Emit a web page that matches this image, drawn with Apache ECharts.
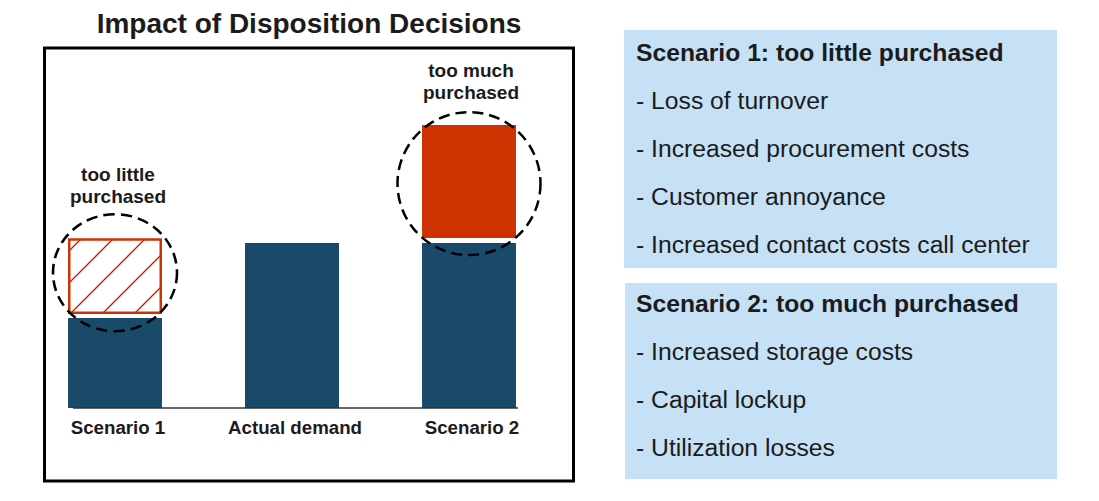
<!DOCTYPE html>
<html><head><meta charset="utf-8">
<script src="https://cdn.jsdelivr.net/npm/echarts@6/dist/echarts.min.js"></script>
<style>html,body{margin:0;padding:0;background:#fff}#c{width:1099px;height:501px}</style>
</head><body><div id="c"></div>
<script>
// ---- data ----
const categories = ['Scenario 1', 'Actual demand', 'Scenario 2'];
const purchased = [54.5, 100, 100];
const spacer = [2.4, null, 3];
const shortfall = [46, null, null];
const excess = [null, null, 68.5];
const highlightCenters = [[0, 82], [2, 136]];
const highlightLabels = ['too little\npurchased', 'too much\npurchased'];
const chartTitle = 'Impact of Disposition Decisions';
const panel1Title = 'Scenario 1: too little purchased';
const panel1Items = ['- Loss of turnover', '- Increased procurement costs', '- Customer annoyance', '- Increased contact costs call center'];
const panel2Title = 'Scenario 2: too much purchased';
const panel2Items = ['- Increased storage costs', '- Capital lockup', '- Utilization losses'];

// ---- styles ----
const FONT = '"Liberation Sans", Arial, sans-serif';
const BLUE = '#1A4A69';
const RED = '#CC3300';
const TEXT = '#1b1b1b';
const PANEL = '#C6E0F5';

const T = 32;
const pc = document.createElement('canvas');
pc.width = T; pc.height = T;
const g = pc.getContext('2d');
g.fillStyle = '#ffffff'; g.fillRect(0, 0, T, T);
g.strokeStyle = '#CC1100'; g.lineWidth = 1.3;
g.beginPath();
g.moveTo(-2, T + 2); g.lineTo(T + 2, -2);
g.moveTo(-2, 2); g.lineTo(2, -2);
g.moveTo(T - 2, T + 2); g.lineTo(T + 2, T - 2);
g.stroke();

const chart = echarts.init(document.getElementById('c'), null, {renderer: 'svg'});

function panel(x, y, w, h, title, items, firstY, step) {
  const children = [{type: 'rect', shape: {x: x, y: y, width: w, height: h}, style: {fill: PANEL}}];
  children.push({type: 'text', style: {x: 636, y: firstY, text: title, fill: TEXT, font: 'bold 24.7px ' + FONT, verticalAlign: 'middle'}});
  items.forEach((t, i) => {
    children.push({type: 'text', style: {x: 636, y: firstY + step * (i + 1), text: t, fill: TEXT, font: '24.7px ' + FONT, verticalAlign: 'middle'}});
  });
  return {type: 'group', children: children};
}

const option = {
  animation: false,
  backgroundColor: '#fff',
  title: {text: chartTitle, left: 304, textAlign: 'center', top: 4,
    textStyle: {fontFamily: FONT, fontSize: 28, fontWeight: 'bold', color: TEXT}},
  grid: {left: 26.5, width: 531, top: 78, bottom: 93},
  xAxis: {type: 'category', data: categories,
    axisLine: {show: false}, axisTick: {show: false},
    axisLabel: {fontFamily: FONT, fontSize: 18.7, fontWeight: 'bold', color: TEXT, margin: 10, padding: [0, 0, 0, 6]}},
  yAxis: {type: 'value', min: 0, max: 200, show: false},
  series: [
    {type: 'bar', name: 'Purchased', stack: 's', data: purchased, barWidth: 94, itemStyle: {color: BLUE}},
    {type: 'bar', name: 'spacer', stack: 's', data: spacer, itemStyle: {color: 'rgba(0,0,0,0)'}},
    {type: 'bar', name: 'Shortfall', stack: 's', data: shortfall,
      itemStyle: {color: {image: pc, repeat: 'repeat'}, borderColor: RED, borderWidth: 2.5}},
    {type: 'bar', name: 'Excess', stack: 's', data: excess, itemStyle: {color: RED}},
    {type: 'scatter', name: 'highlight', z: 10,
      data: highlightCenters.map((c, i) => ({value: c, symbolSize: i === 0 ? [124, 117] : [143, 143],
        label: {formatter: highlightLabels[i], distance: i === 0 ? 5 : 7, offset: [i === 0 ? 3 : 2, 0]}})),
      symbol: 'circle',
      itemStyle: {color: 'rgba(0,0,0,0)', borderColor: '#000', borderWidth: 2.5, borderType: [11, 6], opacity: 1},
      label: {show: true, position: 'top', fontFamily: FONT, fontSize: 19, fontWeight: 'bold',
        color: TEXT, lineHeight: 22, align: 'center'}
    }
  ],
  graphic: []
};
chart.setOption(option);

const y0 = chart.convertToPixel({yAxisIndex: 0}, 0);
const cx0 = chart.convertToPixel({xAxisIndex: 0}, 0);
const cx2 = chart.convertToPixel({xAxisIndex: 0}, 2);
chart.setOption({graphic: [
  {type: 'rect', z: 100, shape: {x: 44.5, y: 48, width: 529, height: 433},
    style: {fill: 'none', stroke: '#000', lineWidth: 3}},
  {type: 'line', z: 100, shape: {x1: cx0 - 42, y1: y0, x2: cx2 + 49, y2: y0},
    style: {stroke: '#333', lineWidth: 1.5}},
  panel(624, 30, 433, 238, panel1Title, panel1Items, 52, 48),
  panel(625, 283, 432, 196, panel2Title, panel2Items, 303, 48)
]});
</script></body></html>
